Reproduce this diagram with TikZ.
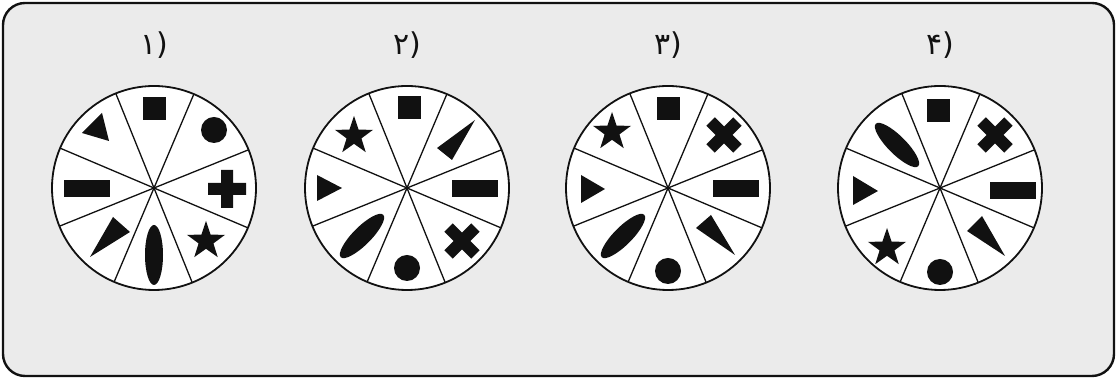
\documentclass[tikz,border=0pt]{standalone}
\usepackage{fontspec}
\newfontfamily\farsi{DejaVu Sans}
\usepackage{xcolor}
\definecolor{panel}{HTML}{EBEBEB}
\definecolor{ink}{HTML}{111111}
\usepackage{tikz}
\tikzset{
  frame/.style={draw=ink, line width=2.4pt, rounded corners=22pt, fill=panel},
  wheel/.style={draw=ink, circle, fill=white, line width=1.8pt, minimum size=204pt, inner sep=0pt, outer sep=0pt},
  spoke/.style={draw=ink, line width=1.3pt},
  numlbl/.style={font=\farsi\fontsize{30}{34}\selectfont, text=ink, inner sep=0pt},
  sym/.style={fill=ink},
}
\newcommand{\wheel}[3]{%
  \node[wheel] (#1) at (#2,191) {};
  \foreach \a in {22.5,67.5,...,337.5} \draw[spoke] (#1.center) -- (#1.\a);
  \node[numlbl] (#1lbl) at (#2,334) {#3};
}
\newcommand{\sqmark}[1]{\fill[sym, shift={#1}] (-11.5,-11.5) rectangle (11.5,11.5);}
\newcommand{\dotmark}[1]{\fill[sym, shift={#1}] (0,0) circle (13);}
\newcommand{\barmark}[1]{\fill[sym, shift={#1}] (-23,-8.5) rectangle (23,8.5);}
\newcommand{\plusmark}[2][0]{\fill[sym, shift={#2}, rotate=#1] (-19,-6) rectangle (19,6) (-6,-19) rectangle (6,19);}
\newcommand{\ovalmark}[2][0]{\fill[sym, shift={#2}, rotate=#1] (0,0) ellipse (30 and 9);}
\newcommand{\starmark}[1]{\fill[sym, shift={#1}] (90:20) \foreach \k in {1,...,4} {-- (54+72*\k:7.8) -- (90+72*\k:20)} -- (54:7.8) -- cycle;}

\begin{document}
\begin{tikzpicture}[x=1pt, y=1pt]
  \useasboundingbox (0,0) rectangle (1117,379);
  \path[frame] (3,3) rectangle (1114,376);

  \wheel{w1}{154}{۱)}
  \wheel{w2}{407}{۲)}
  \wheel{w3}{668}{۳)}
  \wheel{w4}{940}{۴)}

  \begin{scope}[shift={(w1.center)}]
    \sqmark{(0,79)}
    \dotmark{(60,58)}
    \plusmark{(73,-1)}
    \starmark{(52,-53)}
    \ovalmark[90]{(0,-67)}
    \fill[sym] (-64,-69) -- (-41,-29) -- (-24,-44) -- cycle;
    \barmark{(-67,-1)}
    \fill[sym] (-72,55) -- (-52,75) -- (-45,47) -- cycle;
  \end{scope}

  \begin{scope}[shift={(w2.center)}]
    \sqmark{(2,80)}
    \fill[sym] (68,68) -- (30,40) -- (45,28) -- cycle;
    \barmark{(68,-1)}
    \plusmark[45]{(55,-53)}
    \dotmark{(0,-80)}
    \ovalmark[45]{(-45,-48)}
    \fill[sym] (-90,13) -- (-90,-13) -- (-65,0) -- cycle;
    \starmark{(-53,52)}
  \end{scope}

  \begin{scope}[shift={(w3.center)}]
    \sqmark{(0,79)}
    \plusmark[45]{(56,53)}
    \barmark{(68,-1)}
    \fill[sym] (28,-40) -- (43,-27) -- (67,-67) -- cycle;
    \dotmark{(0,-83)}
    \ovalmark[45]{(-45,-48)}
    \fill[sym] (-87,13) -- (-87,-15) -- (-63,-1) -- cycle;
    \starmark{(-56,56)}
  \end{scope}

  \begin{scope}[shift={(w4.center)}]
    \sqmark{(-2,77)}
    \plusmark[45]{(55,53)}
    \barmark{(73,-3)}
    \fill[sym] (27,-43) -- (42,-28) -- (65,-68) -- cycle;
    \dotmark{(0,-84)}
    \starmark{(-53,-60)}
    \fill[sym] (-87,12) -- (-87,-17) -- (-62,-3) -- cycle;
    \ovalmark[-45]{(-43,43)}
  \end{scope}
\end{tikzpicture}
\end{document}
